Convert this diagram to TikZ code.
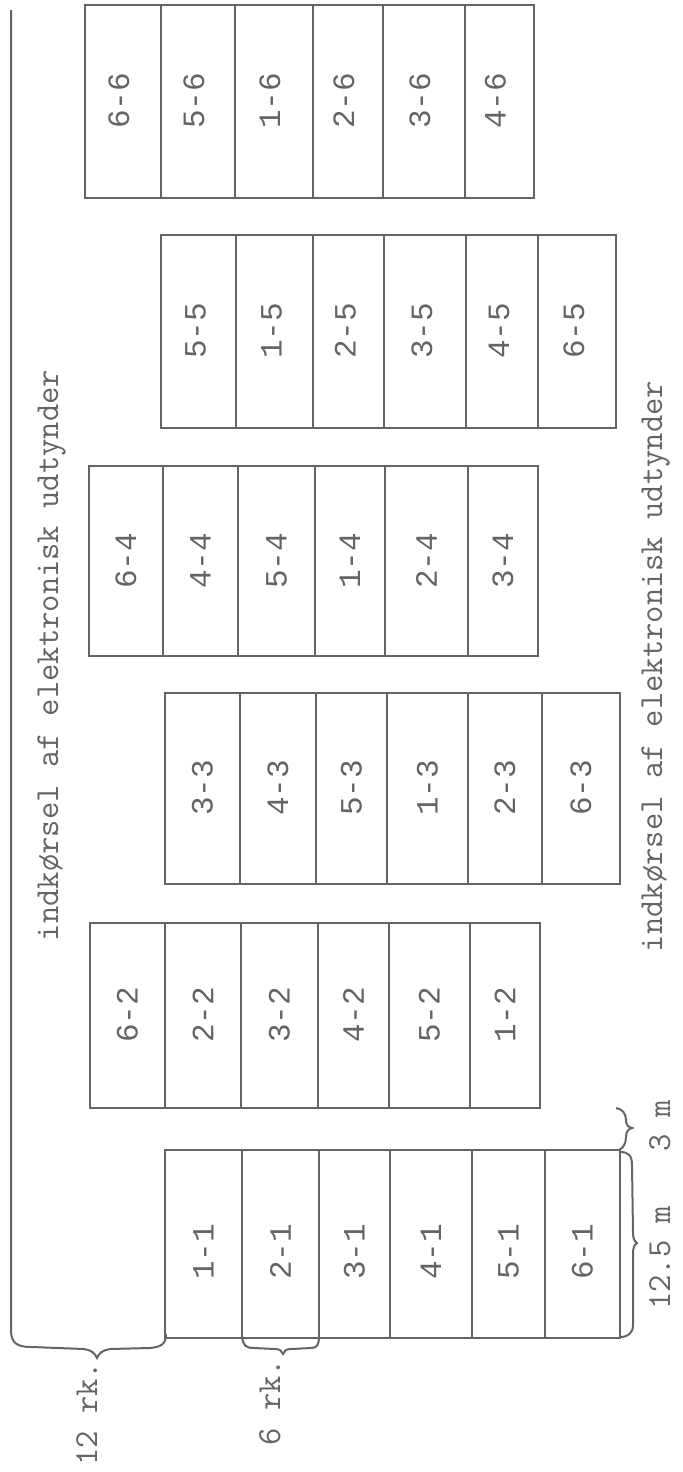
\documentclass[tikz,border=0pt]{standalone}
\usepackage{fontspec}
\setmonofont{Latin Modern Mono}
\newfontfamily\labfont{Liberation Mono}
\definecolor{ink}{RGB}{100,100,100}
\begin{document}
\begin{tikzpicture}[x=0.5pt,y=-0.5pt,line width=1pt,color=ink,
  lbl/.style={rotate=90,inner sep=0pt,font=\labfont\fontsize{15.5}{18}\selectfont},
  txt/.style={rotate=90,inner sep=0pt,font=\ttfamily\fontsize{16.8}{20}\selectfont}]
\useasboundingbox (0,0) rectangle (682,1472);

% ---- block 6 (top)
\draw (85,5) rectangle (534,198);
\foreach \x in {161,235,313,383,465} \draw (\x,5) -- (\x,198);
\foreach \a/\b/\t/\n in {85/161/6-6/n66,161/235/5-6/n56,235/313/1-6/n16,313/383/2-6/n26,383/465/3-6/n36,465/534/4-6/n46}
  \node[lbl] (\n) at ({(\a+\b)/2-4},101) {\t};

% ---- block 5
\draw (161,235) rectangle (616,428);
\foreach \x in {236,313,384,466,538} \draw (\x,235) -- (\x,428);
\foreach \a/\b/\t/\n in {161/236/5-5/n55,236/313/1-5/n15,313/384/2-5/n25,384/466/3-5/n35,466/538/4-5/n45,538/616/6-5/n65}
  \node[lbl] (\n) at ({(\a+\b)/2-3},331) {\t};

% ---- block 4
\draw (89,466) rectangle (538,656);
\foreach \x in {163,238,315,385,468} \draw (\x,466) -- (\x,656);
\foreach \a/\b/\t/\n in {89/163/6-4/n64,163/238/4-4/n44,238/315/5-4/n54,315/385/1-4/n14,385/468/2-4/n24,468/538/3-4/n34}
  \node[lbl] (\n) at ({(\a+\b)/2},561) {\t};

% ---- block 3
\draw (165,693) rectangle (620,884);
\foreach \x in {240,316,387,468,542} \draw (\x,693) -- (\x,884);
\foreach \a/\b/\t/\n in {165/240/3-3/n33,240/316/4-3/n43,316/387/5-3/n53,387/468/1-3/n13,468/542/2-3/n23,542/620/6-3/n63}
  \node[lbl] (\n) at ({(\a+\b)/2},788) {\t};

% ---- block 2
\draw (90,923) rectangle (540,1108);
\foreach \x in {165,241,318,389,470} \draw (\x,923) -- (\x,1108);
\foreach \a/\b/\t/\n in {90/165/6-2/n62,165/241/2-2/n22,241/318/3-2/n32,318/389/4-2/n42,389/470/5-2/n52,470/540/1-2/n12}
  \node[lbl] (\n) at ({(\a+\b)/2},1015) {\t};

% ---- block 1 (bottom)
\draw (165,1150) rectangle (620,1338);
\foreach \x in {242,319,390,472,545} \draw (\x,1150) -- (\x,1338);
\foreach \a/\b/\t/\n in {165/242/1-1/n11,242/319/2-1/n21,319/390/3-1/n31,390/472/4-1/n41,472/545/5-1/n51,545/620/6-1/n61}
  \node[lbl] (\n) at ({(\a+\b)/2},1252) {\t};

% ---- left boundary line with 12 rk. brace
\coordinate (ltop) at (11,10);
\coordinate (btip) at (97,1358);
\draw (ltop) -- (11,1330) .. controls (11,1344) and (18,1347) .. (32,1347)
  -- (84,1349) .. controls (91,1350) and (95,1353) .. (btip)
  .. controls (99,1353) and (103,1350) .. (110,1349)
  -- (150,1348) .. controls (161,1347) and (166,1344) .. (166,1334);

% ---- 6 rk. brace
\coordinate (stip) at (283,1354);
\draw (242,1336) .. controls (243,1346) and (246,1348) .. (254,1348)
  -- (275,1349) .. controls (280,1349) and (282,1351) .. (stip)
  .. controls (284,1351) and (286,1349) .. (291,1349)
  -- (311,1348) .. controls (317,1348) and (319,1345) .. (319,1336);

% ---- 12.5 m brace
\coordinate (rtip) at (637,1243);
\draw (620,1152) .. controls (628,1152) and (632,1155) .. (632,1165)
  -- (633,1232) .. controls (633,1238) and (634,1241) .. (rtip)
  .. controls (634,1245) and (633,1248) .. (633,1254)
  -- (633,1325) .. controls (633,1333) and (628,1337) .. (620,1337);

% ---- 3 m brace
\coordinate (gtip) at (632,1128);
\draw (616,1108) .. controls (622,1109) and (626,1113) .. (626,1120)
  .. controls (626,1125) and (628,1127) .. (gtip)
  .. controls (628,1129) and (626,1132) .. (626,1137)
  .. controls (626,1144) and (623,1148) .. (619,1150);

% ---- texts
\node[txt,anchor=base west] (lefttext) at (58,942) {indkørsel af elektronisk udtynder};
\node[txt,anchor=base west] (righttext) at (662,953) {indkørsel af elektronisk udtynder};
\node[txt,anchor=base east] (rk12) at (97,1361) {12 rk.};
\node[txt,anchor=base east] (rk6) at (280,1358) {6 rk.};
\node[txt,anchor=base east] (m125) at (670,1205) {12.5 m};
\node[txt,anchor=base east] (m3) at (670,1099) {3 m};
\end{tikzpicture}
\end{document}
